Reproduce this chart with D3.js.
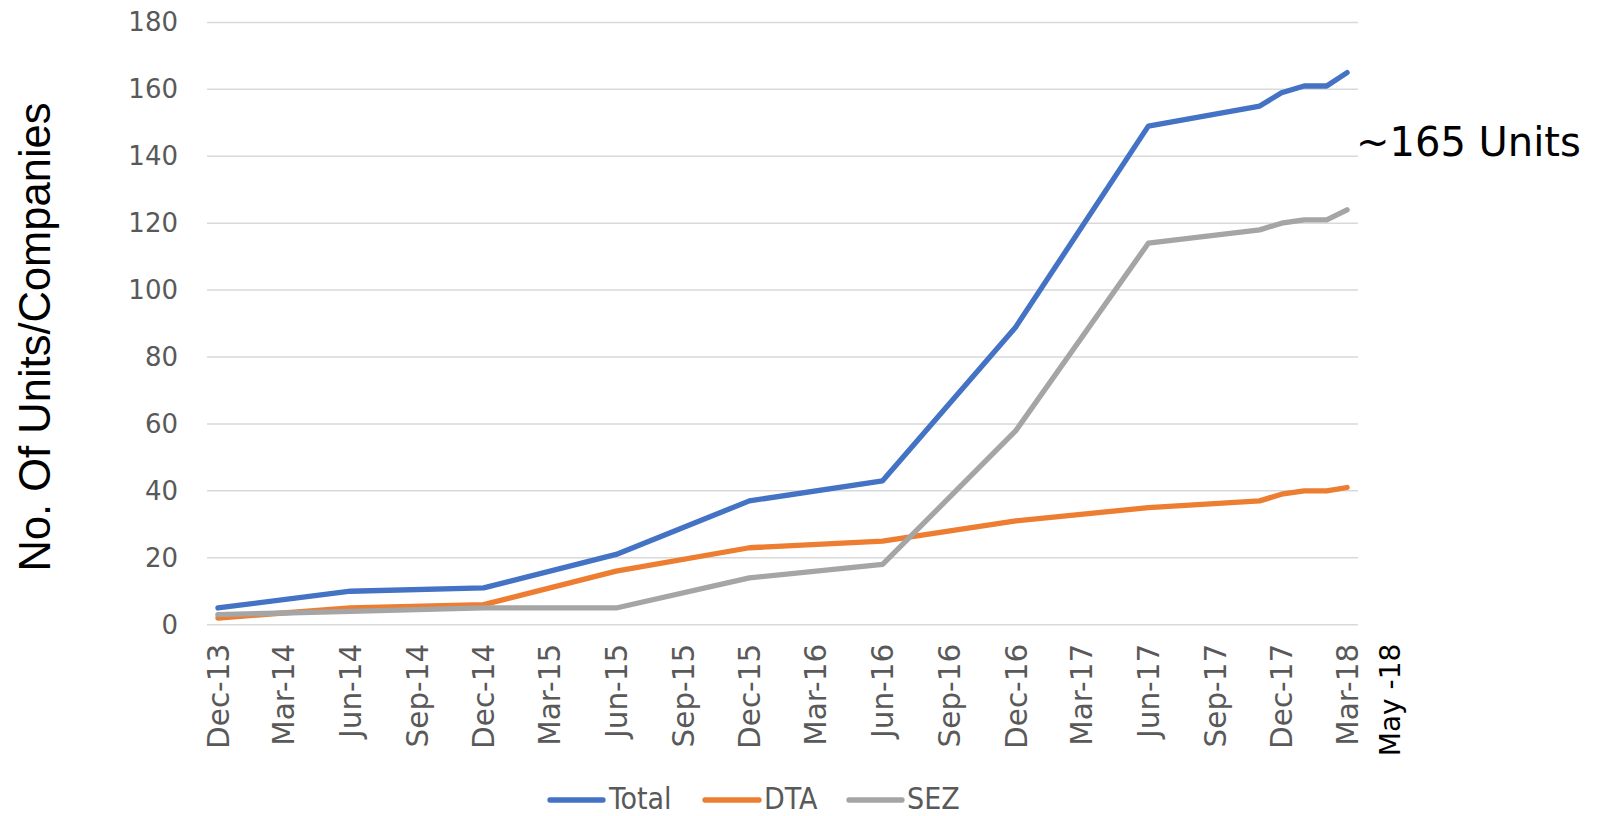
<!DOCTYPE html>
<html>
<head>
<meta charset="utf-8">
<script src="https://cdn.jsdelivr.net/npm/d3@7"></script>
<style>
  html, body { margin: 0; padding: 0; background: #fff; }
  svg { display: block; }
</style>
</head>
<body>
<svg id="chart" width="1598" height="816"></svg>
<script>
// ---- DATA ----
const months = ["2013-12","2014-06","2014-12","2015-06","2015-12","2016-06","2016-12","2017-06","2017-11","2017-12","2018-01","2018-02","2018-03"];
const totalValues = [5, 10, 11, 21, 37, 43, 89, 149, 155, 159, 161, 161, 165];
const dtaValues   = [2, 5, 6, 16, 23, 25, 31, 35, 37, 39, 40, 40, 41];
const sezValues   = [3, 4, 5, 5, 14, 18, 58, 114, 118, 120, 121, 121, 124];
const seriesNames = ["Total", "DTA", "SEZ"];
const yTicks = [0, 20, 40, 60, 80, 100, 120, 140, 160, 180];
const xTickLabels = ["Dec-13","Mar-14","Jun-14","Sep-14","Dec-14","Mar-15","Jun-15","Sep-15","Dec-15","Mar-16","Jun-16","Sep-16","Dec-16","Mar-17","Jun-17","Sep-17","Dec-17","Mar-18"];
const annotation = "~165 Units";
const extraLabel = "May -18";
const yTitle = "No. Of Units/Companies";

// ---- LAYOUT ----
const colors = ["#4472C4", "#ED7D31", "#A5A5A5"];
const parse = d3.timeParse("%Y-%m");
const parseLabel = d3.timeParse("%b-%y");
const dates = months.map(parse);
const xTickVals = xTickLabels.map(parseLabel);
const firstTick = xTickVals[0], lastTick = xTickVals[xTickVals.length - 1];
const plotL = 207, plotR = 1358, plotT = 22.4, plotB = 624.7;

const x = d3.scaleTime()
  .domain([d3.timeDay.offset(firstTick, -15), d3.timeDay.offset(lastTick, 15)])
  .range([plotL, plotR]);
const y = d3.scaleLinear().domain([0, 180]).range([plotB, plotT]);

const svg = d3.select("#chart");
const tickFont = "'DejaVu Sans', sans-serif";

// gridlines
svg.append("g").selectAll("line").data(yTicks).join("line")
  .attr("x1", plotL).attr("x2", plotR)
  .attr("y1", d => y(d)).attr("y2", d => y(d))
  .attr("stroke", "#D9D9D9").attr("stroke-width", 1.5);

// y axis
const yAxis = d3.axisLeft(y).tickValues(yTicks).tickSize(0).tickPadding(29);
const gy = svg.append("g").attr("transform", `translate(${plotL},0)`).call(yAxis);
gy.select(".domain").remove();
gy.selectAll("text").attr("fill", "#595959").style("font-family", tickFont).style("font-size", "26px");

// x axis
const xAxis = d3.axisBottom(x).tickValues(xTickVals).tickSize(0).tickFormat((d, i) => xTickLabels[i]);
const gx = svg.append("g").attr("transform", `translate(0,${plotB})`).call(xAxis);
gx.select(".domain").remove();
gx.selectAll("text")
  .attr("fill", "#595959")
  .style("font-family", tickFont).style("font-size", "29.5px")
  .attr("text-anchor", "end")
  .attr("transform", "rotate(-90)")
  .attr("x", -19).attr("y", 0).attr("dy", "0.35em");

// extra May-18 label
svg.append("text")
  .attr("transform", `translate(${x(lastTick) + 43},${plotB + 19}) rotate(-90)`)
  .attr("text-anchor", "end").attr("dy", "0.35em")
  .style("font-family", tickFont).style("font-size", "28px")
  .attr("fill", "#000").text(extraLabel);

// lines
const allSeries = [totalValues, dtaValues, sezValues];
const line = d3.line().x((d, i) => x(dates[i])).y(d => y(d));
allSeries.forEach((vals, k) => {
  svg.append("path").datum(vals)
    .attr("d", line)
    .attr("fill", "none")
    .attr("stroke", colors[k])
    .attr("stroke-width", 5.3)
    .attr("stroke-linejoin", "round")
    .attr("stroke-linecap", "round");
});

// annotation
svg.append("text")
  .attr("x", 1356).attr("y", 156)
  .style("font-family", tickFont).style("font-size", "40px")
  .attr("fill", "#000").text(annotation);

// y title
svg.append("text")
  .attr("transform", "translate(35,337) rotate(-90)")
  .attr("text-anchor", "middle").attr("dy", "0.35em")
  .style("font-family", "'Liberation Sans', Arial, sans-serif").style("font-size", "43.5px")
  .attr("fill", "#000").text(yTitle);

// legend
const legendItems = [
  {x1: 550, x2: 603, tx: 609},
  {x1: 705, x2: 759, tx: 764},
  {x1: 849, x2: 902, tx: 907}
];
const lg = svg.append("g");
seriesNames.forEach((name, k) => {
  const it = legendItems[k];
  lg.append("line").attr("x1", it.x1).attr("x2", it.x2).attr("y1", 800).attr("y2", 800)
    .attr("stroke", colors[k]).attr("stroke-width", 5.3).attr("stroke-linecap", "round");
  lg.append("text").attr("x", it.tx).attr("y", 809)
    .style("font-family", "'DejaVu Sans Condensed', 'DejaVu Sans', sans-serif").style("font-size", "30px")
    .attr("fill", "#595959").text(name);
});
</script>
</body>
</html>
